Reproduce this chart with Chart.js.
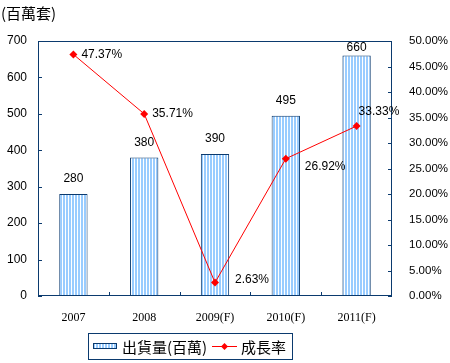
<!DOCTYPE html>
<html><head><meta charset="utf-8">
<script src="https://cdn.jsdelivr.net/npm/chart.js@4/dist/chart.umd.min.js"></script>
<style>html,body{margin:0;padding:0;background:#fff}#wrap{width:450px;height:363px;position:relative}</style>
</head><body><div id="wrap"><canvas id="c" width="450" height="363"></canvas></div>
<script>
// ---- data ----
const categories = ['2007', '2008', '2009(F)', '2010(F)', '2011(F)'];
const shipments = [280, 380, 390, 495, 660];          // 出貨量(百萬)
const growthRate = [47.37, 35.71, 2.63, 26.92, 33.33]; // 成長率 (%)
const leftTicks = [0, 100, 200, 300, 400, 500, 600, 700];
const rightTicks = [0, 5, 10, 15, 20, 25, 30, 35, 40, 45, 50];
const unitLabel = '(百萬套)';
const seriesNames = ['出貨量(百萬)', '成長率'];

// ---- styles ----
const NAVY = '#0B3A6E';
const RED = '#FF0000';
const NUM_FONT = '"Liberation Sans Narrow", "Liberation Sans", Arial, sans-serif';
const CJK_FONT = '"Noto Sans CJK TC", "Noto Sans CJK SC", sans-serif';
const SERIF_FONT = '"Liberation Serif", "Times New Roman", serif';
const lineLabelOffsets = [[8, 0], [8, 0], [20, -3], [19, 8], [2, -14]];

function stripePattern() {
  const p = document.createElement('canvas');
  p.width = 3; p.height = 1;
  const g = p.getContext('2d');
  g.fillStyle = '#FFFFFF'; g.fillRect(0, 0, 3, 1);
  g.fillStyle = '#99CCFF'; g.fillRect(0, 0, 2, 1);
  return document.getElementById('c').getContext('2d').createPattern(p, 'repeat');
}
const pattern = stripePattern();

const decor = {
  id: 'decor',
  afterDatasetsDraw(chart) {
    const ctx = chart.ctx;
    const a = chart.chartArea;
    const x = chart.scales.x, yL = chart.scales.y, yR = chart.scales.y1;
    ctx.save();
    // frame
    ctx.strokeStyle = NAVY; ctx.lineWidth = 1;
    ctx.strokeRect(Math.round(a.left) + 0.5, Math.round(a.top) + 0.5,
      Math.round(a.right - a.left) - 1, Math.round(a.bottom - a.top) - 1);
    // inward ticks
    ctx.beginPath();
    leftTicks.forEach(v => {
      const y = Math.round(yL.getPixelForValue(v)) + 0.5;
      ctx.moveTo(a.left, y); ctx.lineTo(a.left + 4, y);
    });
    rightTicks.forEach(v => {
      const y = Math.round(yR.getPixelForValue(v)) + 0.5;
      ctx.moveTo(a.right - 4, y); ctx.lineTo(a.right, y);
    });
    for (let i = 0; i < categories.length - 1; i++) {
      const bx = Math.round((x.getPixelForValue(i) + x.getPixelForValue(i + 1)) / 2) + 0.5;
      ctx.moveTo(bx, a.bottom - 4); ctx.lineTo(bx, a.bottom);
    }
    ctx.stroke();

    // bar value labels
    ctx.fillStyle = '#000';
    ctx.font = '12px ' + NUM_FONT;
    ctx.textAlign = 'center'; ctx.textBaseline = 'middle';
    chart.getDatasetMeta(0).data.forEach((el, i) => {
      const y = Math.max(el.y - 15, a.top + 7);
      ctx.fillText(String(shipments[i]), el.x, y);
    });
    // line labels
    ctx.textAlign = 'left';
    chart.getDatasetMeta(1).data.forEach((el, i) => {
      const o = lineLabelOffsets[i];
      ctx.fillText(growthRate[i].toFixed(2) + '%', el.x + o[0], el.y + o[1]);
    });

    // unit title
    ctx.font = '15px ' + CJK_FONT;
    ctx.textBaseline = 'middle';
    ctx.fillText(unitLabel, 1, 13);

    // legend
    ctx.strokeStyle = NAVY;
    ctx.strokeRect(88.5, 333.5, 204, 26);
    ctx.fillStyle = pattern;
    ctx.fillRect(93, 343, 24, 6);
    ctx.strokeRect(93.5, 343.5, 23, 5);
    ctx.fillStyle = '#000';
    ctx.font = '15px ' + CJK_FONT;
    ctx.fillText(seriesNames[0], 122, 347);
    ctx.strokeStyle = RED; ctx.lineWidth = 1;
    ctx.beginPath(); ctx.moveTo(212, 346.5); ctx.lineTo(237, 346.5); ctx.stroke();
    ctx.fillStyle = RED;
    ctx.beginPath();
    ctx.moveTo(224.5, 343); ctx.lineTo(228, 346.5); ctx.lineTo(224.5, 350); ctx.lineTo(221, 346.5);
    ctx.closePath(); ctx.fill();
    ctx.fillStyle = '#000';
    ctx.fillText(seriesNames[1], 241, 347);
    ctx.restore();
  }
};

new Chart(document.getElementById('c'), {
  data: {
    labels: categories,
    datasets: [
      {
        type: 'bar', label: seriesNames[0], data: shipments, yAxisID: 'y', order: 2,
        backgroundColor: pattern, borderColor: NAVY, borderWidth: 1,
        categoryPercentage: 1, barPercentage: 0.4
      },
      {
        type: 'line', label: seriesNames[1], data: growthRate, yAxisID: 'y1', order: 1,
        borderColor: RED, backgroundColor: RED, borderWidth: 1,
        pointStyle: 'rectRot', pointRadius: 4, pointBorderWidth: 0, tension: 0
      }
    ]
  },
  options: {
    responsive: false, animation: false, devicePixelRatio: 1,
    layout: { padding: { top: 41, left: 0, right: 0, bottom: 0 } },
    plugins: { legend: { display: false }, tooltip: { enabled: false } },
    scales: {
      x: {
        grid: { display: false, drawTicks: false }, border: { display: false },
        ticks: { color: '#000', font: { family: SERIF_FONT, size: 12 }, padding: 15, maxRotation: 0 },
        afterFit(s) { s.height = 67; }
      },
      y: {
        position: 'left', min: 0, max: 700,
        grid: { display: false, drawTicks: false }, border: { display: false },
        ticks: { stepSize: 100, color: '#000', font: { family: NUM_FONT, size: 12 }, padding: 11 },
        afterFit(s) { s.width = 38; }
      },
      y1: {
        position: 'right', min: 0, max: 50,
        grid: { display: false, drawTicks: false }, border: { display: false },
        ticks: { stepSize: 5, color: '#000', font: { family: NUM_FONT, size: 11.5 }, padding: 17,
          callback: v => Number(v).toFixed(2) + '%' },
        afterFit(s) { s.width = 58; }
      }
    }
  },
  plugins: [decor]
});
</script>
</body></html>
